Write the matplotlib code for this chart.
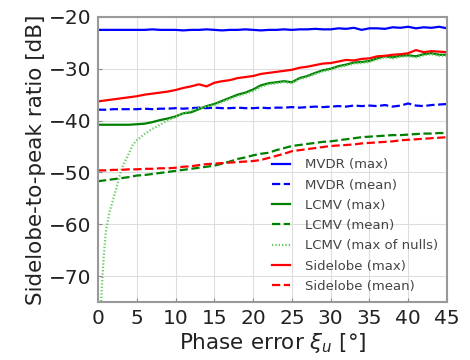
import numpy as np
import matplotlib
matplotlib.use("Agg")
import matplotlib.pyplot as plt

# phase error in degrees, 1 degree steps
phase = np.arange(0, 46)

mvdr_max = [-22.5, -22.5, -22.5, -22.5, -22.5, -22.5, -22.5, -22.4, -22.5, -22.5,
            -22.5, -22.6, -22.5, -22.5, -22.4, -22.5, -22.6, -22.5, -22.5, -22.4,
            -22.5, -22.6, -22.5, -22.5, -22.4, -22.5, -22.4, -22.4, -22.3, -22.4,
            -22.4, -22.2, -22.3, -22.1, -22.5, -22.2, -22.2, -22.3, -22.0, -22.1,
            -21.9, -22.2, -22.0, -22.1, -21.9, -22.2]
mvdr_mean = [-37.9, -37.9, -37.8, -37.8, -37.8, -37.8, -37.7, -37.8, -37.7, -37.7,
             -37.6, -37.7, -37.6, -37.5, -37.6, -37.5, -37.6, -37.6, -37.5, -37.6,
             -37.6, -37.5, -37.6, -37.5, -37.5, -37.4, -37.5, -37.4, -37.3, -37.4,
             -37.3, -37.2, -37.3, -37.1, -37.2, -37.1, -37.2, -37.0, -37.3, -37.1,
             -36.7, -37.1, -37.2, -37.0, -36.9, -36.8]
lcmv_max = [-40.8, -40.8, -40.8, -40.8, -40.8, -40.7, -40.6, -40.3, -39.9, -39.6,
            -39.2, -38.6, -38.4, -37.8, -37.2, -36.8, -36.2, -35.6, -35.0, -34.6,
            -34.0, -33.2, -32.8, -32.6, -32.4, -32.6, -31.8, -31.4, -30.8, -30.3,
            -30.0, -29.5, -29.2, -28.8, -28.7, -28.5, -28.0, -27.6, -27.8, -27.5,
            -27.4, -27.6, -27.2, -27.0, -27.3, -27.3]
lcmv_mean = [-51.7, -51.5, -51.3, -51.1, -50.9, -50.6, -50.5, -50.3, -50.1, -49.9,
             -49.7, -49.5, -49.3, -49.1, -48.9, -48.7, -48.3, -47.9, -47.4, -47.1,
             -46.7, -46.4, -46.2, -45.7, -45.3, -44.9, -44.7, -44.5, -44.3, -44.1,
             -44.0, -43.8, -43.6, -43.4, -43.2, -43.1, -43.0, -42.9, -42.8, -42.8,
             -42.7, -42.6, -42.5, -42.5, -42.4, -42.4]
side_max = [-36.3, -36.1, -35.9, -35.7, -35.5, -35.3, -35.0, -34.8, -34.6, -34.4,
            -34.1, -33.7, -33.4, -33.0, -33.4, -32.7, -32.4, -32.2, -31.8, -31.6,
            -31.4, -31.0, -30.8, -30.6, -30.4, -30.2, -29.8, -29.6, -29.3, -29.0,
            -28.9, -28.6, -28.3, -28.4, -28.1, -28.0, -27.6, -27.5, -27.3, -27.2,
            -27.0, -26.4, -26.8, -26.6, -26.7, -26.8]
side_mean = [-49.6, -49.6, -49.5, -49.5, -49.4, -49.4, -49.3, -49.3, -49.2, -49.2,
             -49.1, -48.9, -48.8, -48.6, -48.4, -48.3, -48.2, -48.1, -48.0, -47.9,
             -47.8, -47.6, -47.2, -46.8, -46.4, -45.9, -45.7, -45.5, -45.3, -45.1,
             -44.9, -44.8, -44.7, -44.6, -44.4, -44.3, -44.2, -44.1, -44.0, -43.8,
             -43.7, -43.6, -43.5, -43.4, -43.3, -43.2]

# the nulls curve climbs fast near zero, so it is sampled more finely there
phase_nulls = [0.25, 0.5, 0.75, 1, 1.5, 2, 2.5, 3, 3.5, 4, 4.5, 5, 6, 7, 8, 9, 10,
               11, 12, 13, 14, 15, 16, 17, 18, 19, 20, 21, 22, 23, 24, 25, 26, 27,
               28, 29, 30, 31, 32, 33, 34, 35, 36, 37, 38, 39, 40, 41, 42, 43, 44, 45]
lcmv_nulls = [-80.0, -72.0, -66.0, -61.5, -57.5, -55.0, -52.3, -49.5, -47.8, -46.3,
              -44.6, -43.8, -42.6, -41.6, -40.8, -40.0, -39.3, -38.6, -38.1, -37.6,
              -37.3, -37.0, -36.4, -35.8, -35.3, -34.8, -34.3, -33.5, -33.0, -32.8,
              -32.6, -32.8, -32.0, -31.6, -31.0, -30.5, -30.2, -29.7, -29.4, -29.0,
              -28.9, -28.7, -28.2, -27.8, -28.0, -27.7, -27.6, -27.8, -27.4, -27.2,
              -27.5, -27.5]

fig = plt.figure(figsize=(4.7, 3.6), dpi=100)
ax = fig.add_axes([0.2085, 0.161, 0.7425, 0.792])

lw = 1.6
ax.plot(phase, mvdr_max, color="#0000ff", lw=lw, label="MVDR (max)")
ax.plot(phase, mvdr_mean, color="#0000ff", lw=lw, ls="--", label="MVDR (mean)")
ax.plot(phase, lcmv_max, color="#008000", lw=lw, label="LCMV (max)")
ax.plot(phase, lcmv_mean, color="#008000", lw=lw, ls="--", label="LCMV (mean)")
ax.plot(phase_nulls, lcmv_nulls, color="#66cc66", lw=lw, ls=(0, (0.6, 0.9)),
        label="LCMV (max of nulls)")
ax.plot(phase, side_max, color="#ff0000", lw=lw, label="Sidelobe (max)")
ax.plot(phase, side_mean, color="#ff0000", lw=lw, ls="--", label="Sidelobe (mean)")

ax.set_xlim(0, 45)
ax.set_ylim(-75, -20)
ax.set_xticks(np.arange(0, 46, 5))
ax.set_yticks(np.arange(-70, -19, 10))
ax.grid(True, color="#dddddd", lw=0.8)
ax.tick_params(direction="in", length=3, color="#888888", labelsize=14.5,
               labelcolor="#222222", pad=5)
for s in ax.spines.values():
    s.set_color("#999999")
    s.set_linewidth(1.5)

ax.set_xlabel(r"Phase error $\xi_u$ [°]", fontsize=15.5, color="#222222",
              labelpad=2)
ax.set_ylabel("Sidelobe-to-peak ratio [dB]", fontsize=15.5, color="#222222",
              labelpad=2)

leg = ax.legend(loc="lower right", frameon=False, fontsize=9.5, labelspacing=0.55,
                handlelength=1.4, handletextpad=1.1, borderaxespad=0.3)
for t in leg.get_texts():
    t.set_color("#444444")

fig.savefig("out.png", dpi=100)
